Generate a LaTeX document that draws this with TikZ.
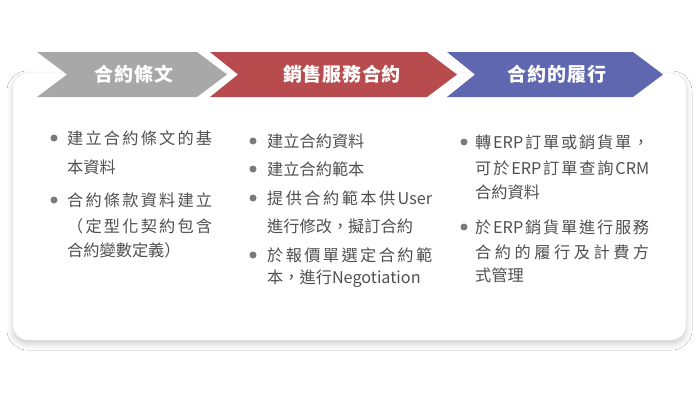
\documentclass[tikz,border=0pt]{standalone}
\usepackage{fontspec}
\setmainfont{Noto Sans CJK TC}
\newfontfamily\cjk[LetterSpace=4]{Noto Sans CJK TC}
\usetikzlibrary{shadows.blur}

\definecolor{greyarrow}{HTML}{A8A8A8}
\definecolor{redarrow}{HTML}{B74B4D}
\definecolor{bluearrow}{HTML}{5F67B1}
\definecolor{bodytext}{HTML}{505050}
\definecolor{dotc}{HTML}{7A7A7A}
\definecolor{cardline}{HTML}{E0E0E0}

% justified line: glue between every token
\makeatletter
\newcommand\spreadline[2]{\makebox[#1pt][s]{\spr@first#2\@nil}}
\def\spr@first#1#2\@nil{#1\@tfor\spr@t:=#2\do{\hfil\spr@t}}
\makeatother

\tikzset{
  title/.style={font=\cjk\fontsize{19}{19}\selectfont\bfseries, text=white, inner sep=0pt},
  item/.style={anchor=west, font=\fontsize{16.2}{16.2}\selectfont, text=bodytext, inner sep=0pt},
  dot/.style={fill=dotc}
}

\begin{document}
\begin{tikzpicture}[x=1pt, y=-1pt]

  \fill[white] (0,0) rectangle (700,404);
  \useasboundingbox (0,0) rectangle (700,404);

  % --- card ---
  \draw[cardline, fill=white, rounded corners=14,
        blur shadow={shadow xshift=0pt, shadow yshift=-4pt,
                     shadow blur radius=6pt, shadow opacity=20}]
    (13,73) rectangle (686,340);

  % --- chevrons ---
  \fill[greyarrow] (37,52) -- (197,52) -- (227,74.5) -- (197,97) -- (37,97) -- (67,74.5) -- cycle;
  \fill[redarrow] (210,52) -- (427,52) -- (457,74.5) -- (427,97) -- (210,97) -- (238,74.5) -- cycle;
  \fill[bluearrow] (447,52) -- (633,52) -- (663,74.5) -- (633,97) -- (447,97) -- (475,74.5) -- cycle;

  \node[title] (ttl1) at (134,74) {合約條文};
  \node[title] (ttl2) at (342,74) {銷售服務合約};
  \node[title] (ttl3) at (557,74) {合約的履行};

  % --- column 1 ---
  \fill[dot] (54,138) circle (3.5);
  \fill[dot] (54,200) circle (3.5);
  \node[item] (c1a) at (67,138) {\spreadline{145}{建立合約條文的基}};
  \node[item] (c1b) at (67,167) {本資料};
  \node[item] (c1c) at (67,200) {\spreadline{145}{合約條款資料建立}};
  \node[item] (c1d) at (67,226) {\spreadline{145}{（定型化契約包含}};
  \node[item] (c1e) at (67,250) {合約變數定義）};

  % --- column 2 ---
  \fill[dot] (253,141) circle (3.5);
  \fill[dot] (253,169) circle (3.5);
  \fill[dot] (253,198) circle (3.5);
  \fill[dot] (253,255) circle (3.5);
  \node[item] (c2a) at (267,141) {建立合約資料};
  \node[item] (c2b) at (267,169) {建立合約範本};
  \node[item] (c2c) at (267,198) {\spreadline{165}{提供合約範本供{User}}};
  \node[item] (c2d) at (267,226) {進行修改，擬訂合約};
  \node[item] (c2e) at (267,255) {\spreadline{165}{於報價單選定合約範}};
  \node[item] (c2f) at (267,279) {本，進行Negotiation};

  % --- column 3 ---
  \fill[dot] (464,142) circle (3.5);
  \fill[dot] (464,227) circle (3.5);
  \node[item] (c3a) at (475,142) {\spreadline{174}{轉{ERP}訂單或銷貨單，}};
  \node[item] (c3b) at (475,168) {\spreadline{174}{可於{ERP}訂單查詢{CRM}}};
  \node[item] (c3c) at (475,192) {合約資料};
  \node[item] (c3d) at (475,227) {\spreadline{174}{於{ERP}銷貨單進行服務}};
  \node[item] (c3e) at (475,252) {\spreadline{174}{合約的履行及計費方}};
  \node[item] (c3f) at (475,275) {式管理};

\end{tikzpicture}
\end{document}
